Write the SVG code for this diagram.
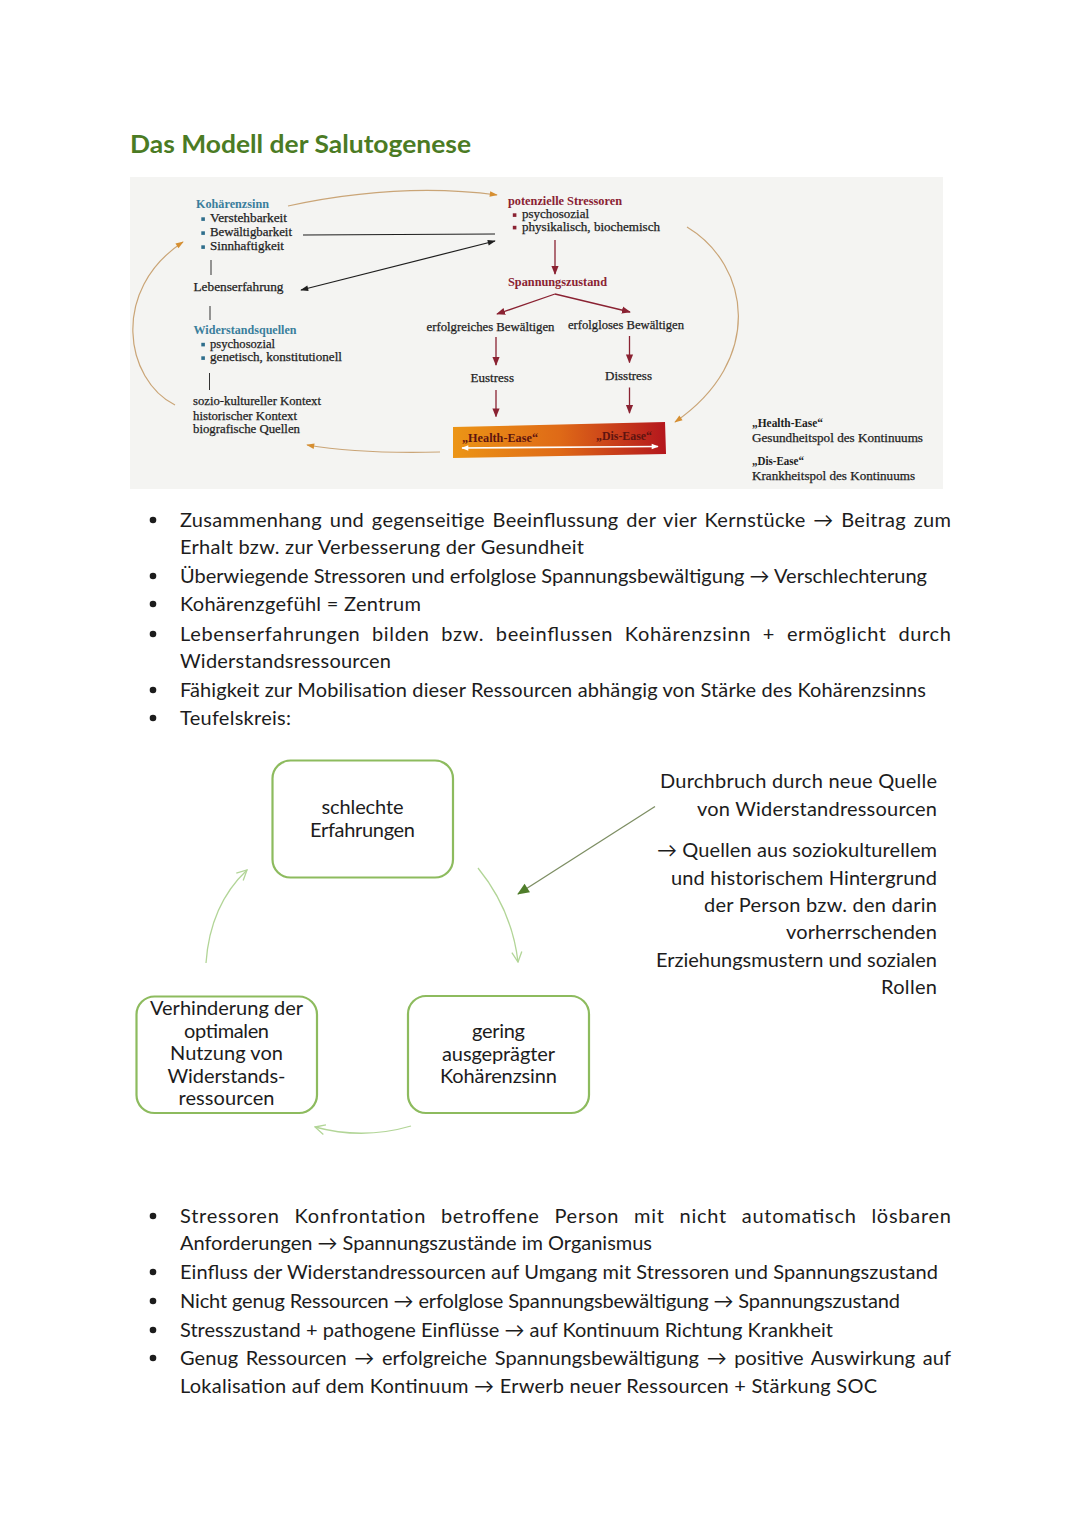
<svg xmlns="http://www.w3.org/2000/svg" width="1080" height="1527" viewBox="0 0 1080 1527">
<defs>
<style>
.title{font-family:Lato,"Open Sans",sans-serif;font-weight:bold;font-size:24px;fill:#4b7b24}
.body{font-family:Lato,"Open Sans",sans-serif;font-size:20px;fill:#1c1c1c}
.box{font-family:Lato,"Open Sans",sans-serif;font-size:20px;fill:#1c1c1c;text-anchor:middle}
.rt{font-family:Lato,"Open Sans",sans-serif;font-size:20px;fill:#1c1c1c;text-anchor:end}
.sh{font-family:"Liberation Serif",serif;font-size:12.5px;font-weight:bold}
.sn{font-family:"Liberation Serif",serif;font-size:12.5px;fill:#1e1e1e;stroke:#1e1e1e;stroke-width:0.25}
.blue{fill:#3a7e9c}
.red{fill:#8a2232}
.dk{fill:#1e1e1e}
.bar{font-family:"Liberation Serif",serif;font-size:11.5px;font-weight:bold;fill:#5e1410}
.cbox{fill:#ffffff;stroke:#8dbb5e;stroke-width:2.2}
.cyc{fill:none;stroke:#b2d597;stroke-width:1.3}
.vline{stroke:#333;stroke-width:1}
</style>
<linearGradient id="grad" x1="0" y1="0" x2="1" y2="0">
<stop offset="0" stop-color="#ec9516"/>
<stop offset="0.5" stop-color="#df6a17"/>
<stop offset="1" stop-color="#b4161d"/>
</linearGradient>
<marker id="mRed" viewBox="0 0 10 10" refX="9" refY="5" markerWidth="9" markerHeight="9" markerUnits="userSpaceOnUse" orient="auto"><path d="M0,1 L10,5 L0,9 z" fill="#8a2232"/></marker>
<marker id="mBlack" viewBox="0 0 10 10" refX="9" refY="5" markerWidth="10" markerHeight="8" markerUnits="userSpaceOnUse" orient="auto-start-reverse"><path d="M0,1.5 L10,5 L0,8.5 z" fill="#1e1e1e"/></marker>
<marker id="mOr" viewBox="0 0 10 10" refX="9" refY="5" markerWidth="10" markerHeight="8" markerUnits="userSpaceOnUse" orient="auto"><path d="M0,1.5 L10,5 L0,8.5 z" fill="#d68f32"/></marker>
<marker id="mWhite" viewBox="0 0 10 10" refX="9" refY="5" markerWidth="8" markerHeight="7" markerUnits="userSpaceOnUse" orient="auto-start-reverse"><path d="M0,1 L10,5 L0,9 z" fill="#ffffff"/></marker>
<marker id="mGo" viewBox="0 0 12 12" refX="11" refY="6" markerWidth="12" markerHeight="12" markerUnits="userSpaceOnUse" orient="auto"><path d="M1,1 L11,6 L1,11" fill="none" stroke="#b2d597" stroke-width="1.3"/></marker>
<marker id="mGf" viewBox="0 0 12 12" refX="11" refY="6" markerWidth="14" markerHeight="12" markerUnits="userSpaceOnUse" orient="auto"><path d="M0,1 L12,6 L0,11 z" fill="#4f7d2a"/></marker>
</defs>
<rect width="1080" height="1527" fill="#ffffff"/>

<text class="title" x="130" y="153" textLength="341" lengthAdjust="spacingAndGlyphs">Das Modell der Salutogenese</text>

<!-- top model picture -->
<rect x="130" y="177" width="813" height="312" fill="#f4f4f2"/>

<g id="koharenzsinn">
<text class="sh blue" x="196" y="208" textLength="73" lengthAdjust="spacingAndGlyphs">Kohärenzsinn</text>
<rect x="201.3" y="217.3" width="3.6" height="3.6" fill="#2f6e8c"/>
<text class="sn" x="210" y="222" textLength="77" lengthAdjust="spacingAndGlyphs">Verstehbarkeit</text>
<rect x="201.3" y="231.3" width="3.6" height="3.6" fill="#2f6e8c"/>
<text class="sn" x="210" y="236" textLength="82" lengthAdjust="spacingAndGlyphs">Bewältigbarkeit</text>
<rect x="201.3" y="245.3" width="3.6" height="3.6" fill="#2f6e8c"/>
<text class="sn" x="210" y="250" textLength="74" lengthAdjust="spacingAndGlyphs">Sinnhaftigkeit</text>
</g>
<line class="vline" x1="211" y1="260" x2="211" y2="275"/>
<g id="lebenserfahrung">
<text class="sn" x="193.5" y="290.5" textLength="90" lengthAdjust="spacingAndGlyphs">Lebenserfahrung</text>
</g>
<line class="vline" x1="210" y1="306" x2="210" y2="320"/>
<g id="widerstandsquellen">
<text class="sh blue" x="193.5" y="334" textLength="103" lengthAdjust="spacingAndGlyphs">Widerstandsquellen</text>
<rect x="201.3" y="342.8" width="3.6" height="3.6" fill="#2f6e8c"/>
<text class="sn" x="210" y="347.5" textLength="65" lengthAdjust="spacingAndGlyphs">psychosozial</text>
<rect x="201.3" y="356.3" width="3.6" height="3.6" fill="#2f6e8c"/>
<text class="sn" x="210" y="361" textLength="132" lengthAdjust="spacingAndGlyphs">genetisch, konstitutionell</text>
</g>
<line class="vline" x1="209.5" y1="373" x2="209.5" y2="390"/>
<g id="kontext">
<text class="sn" x="193" y="405" textLength="128" lengthAdjust="spacingAndGlyphs">sozio-kultureller Kontext</text>
<text class="sn" x="193" y="419.5" textLength="104" lengthAdjust="spacingAndGlyphs">historischer Kontext</text>
<text class="sn" x="193" y="433" textLength="107" lengthAdjust="spacingAndGlyphs">biografische Quellen</text>
</g>

<g id="stressoren">
<text class="sh red" x="508" y="205" textLength="114" lengthAdjust="spacingAndGlyphs">potenzielle Stressoren</text>
<rect x="512.8" y="213.3" width="3.6" height="3.6" fill="#8a2232"/>
<text class="sn" x="522" y="218" textLength="67" lengthAdjust="spacingAndGlyphs">psychosozial</text>
<rect x="512.8" y="225.8" width="3.6" height="3.6" fill="#8a2232"/>
<text class="sn" x="522" y="230.5" textLength="138" lengthAdjust="spacingAndGlyphs">physikalisch, biochemisch</text>
</g>
<g id="spannungszustand">
<text class="sh red" x="508" y="285.5" textLength="99" lengthAdjust="spacingAndGlyphs">Spannungszustand</text>
</g>
<g id="erfolgreich">
<text class="sn" x="426.5" y="331" textLength="128" lengthAdjust="spacingAndGlyphs">erfolgreiches Bewältigen</text>
</g>
<g id="erfolglos">
<text class="sn" x="568" y="328.5" textLength="116" lengthAdjust="spacingAndGlyphs">erfolgloses Bewältigen</text>
</g>
<g id="eustress">
<text class="sn" x="470.5" y="381.5" textLength="43.5" lengthAdjust="spacingAndGlyphs">Eustress</text>
</g>
<g id="disstress">
<text class="sn" x="605" y="379.5" textLength="47" lengthAdjust="spacingAndGlyphs">Disstress</text>
</g>
<g id="kontinuum">
<polygon points="453,427 665,422 666,454 453,458" fill="url(#grad)"/>
<text class="bar" x="462" y="442" textLength="76" lengthAdjust="spacingAndGlyphs">„Health-Ease“</text>
<text class="bar" x="596" y="439.5" textLength="56" lengthAdjust="spacingAndGlyphs">„Dis-Ease“</text>
<line x1="462" y1="448" x2="658" y2="446.5" stroke="#ffffff" stroke-width="1.6" marker-start="url(#mWhite)" marker-end="url(#mWhite)"/>
</g>
<g id="legende">
<text class="sh dk" x="752" y="427" textLength="71" lengthAdjust="spacingAndGlyphs">„Health-Ease“</text>
<text class="sn" x="752" y="442" textLength="171" lengthAdjust="spacingAndGlyphs">Gesundheitspol des Kontinuums</text>
<text class="sh dk" x="752" y="465" textLength="52" lengthAdjust="spacingAndGlyphs">„Dis-Ease“</text>
<text class="sn" x="752" y="480" textLength="163" lengthAdjust="spacingAndGlyphs">Krankheitspol des Kontinuums</text>
</g>

<g id="connectors-model">
<path d="M288,206 Q400,182 497,195" fill="none" stroke="#caa577" stroke-width="1.2" marker-end="url(#mOr)"/>
<line x1="303" y1="235" x2="495" y2="234" stroke="#1e1e1e" stroke-width="1.2"/>
<line x1="301" y1="290" x2="495" y2="241" stroke="#1e1e1e" stroke-width="1.2" marker-start="url(#mBlack)" marker-end="url(#mBlack)"/>
<path d="M687,227 C750,265 765,360 675,422" fill="none" stroke="#caa577" stroke-width="1.2" marker-end="url(#mOr)"/>
<path d="M440,452 Q360,454 307,445" fill="none" stroke="#caa577" stroke-width="1.2" marker-end="url(#mOr)"/>
<path d="M175,405 C125,380 110,290 183,242" fill="none" stroke="#caa577" stroke-width="1.2" marker-end="url(#mOr)"/>
<line x1="555" y1="240" x2="555" y2="274" stroke="#8a2232" stroke-width="1.3" marker-end="url(#mRed)"/>
<line x1="555" y1="294" x2="497" y2="314" stroke="#8a2232" stroke-width="1.3" marker-end="url(#mRed)"/>
<line x1="555" y1="294" x2="630" y2="312" stroke="#8a2232" stroke-width="1.3" marker-end="url(#mRed)"/>
<line x1="496" y1="337" x2="496" y2="365" stroke="#8a2232" stroke-width="1.3" marker-end="url(#mRed)"/>
<line x1="629.5" y1="336" x2="629.5" y2="362.5" stroke="#8a2232" stroke-width="1.3" marker-end="url(#mRed)"/>
<line x1="496" y1="390" x2="496" y2="416.5" stroke="#8a2232" stroke-width="1.3" marker-end="url(#mRed)"/>
<line x1="629.5" y1="387.5" x2="629.5" y2="413" stroke="#8a2232" stroke-width="1.3" marker-end="url(#mRed)"/>
</g>

<!-- bullets 1 -->
<g id="bullets-1">
<circle cx="153" cy="520" r="3.3" fill="#1c1c1c"/>
<text class="body" x="180" y="527" textLength="771" lengthAdjust="spacing" word-spacing="2.4">Zusammenhang und gegenseitige Beeinflussung der vier Kernstücke → Beitrag zum</text>
<text class="body" x="180" y="554" textLength="404" lengthAdjust="spacing">Erhalt bzw. zur Verbesserung der Gesundheit</text>
<circle cx="153" cy="576" r="3.3" fill="#1c1c1c"/>
<text class="body" x="180" y="583" textLength="747" lengthAdjust="spacing">Überwiegende Stressoren und erfolglose Spannungsbewältigung → Verschlechterung</text>
<circle cx="153" cy="604" r="3.3" fill="#1c1c1c"/>
<text class="body" x="180" y="611" textLength="241" lengthAdjust="spacing">Kohärenzgefühl = Zentrum</text>
<circle cx="153" cy="634" r="3.3" fill="#1c1c1c"/>
<text class="body" x="180" y="641" textLength="771" lengthAdjust="spacing" word-spacing="6">Lebenserfahrungen bilden bzw. beeinflussen Kohärenzsinn + ermöglicht durch</text>
<text class="body" x="180" y="668" textLength="211" lengthAdjust="spacing">Widerstandsressourcen</text>
<circle cx="153" cy="690" r="3.3" fill="#1c1c1c"/>
<text class="body" x="180" y="697" textLength="746" lengthAdjust="spacing">Fähigkeit zur Mobilisation dieser Ressourcen abhängig von Stärke des Kohärenzsinns</text>
<circle cx="153" cy="718" r="3.3" fill="#1c1c1c"/>
<text class="body" x="180" y="725" textLength="111" lengthAdjust="spacing">Teufelskreis:</text>
</g>

<!-- cycle -->
<g id="schlechte-erfahrungen">
<rect class="cbox" x="272.5" y="760.5" width="180.5" height="117" rx="18"/>
<text class="box" x="362.5" y="813.5" textLength="82" lengthAdjust="spacing">schlechte</text>
<text class="box" x="362.5" y="836.5" textLength="105" lengthAdjust="spacing">Erfahrungen</text>
</g>
<g id="gering-koharenzsinn">
<rect class="cbox" x="408" y="996" width="181" height="117" rx="18"/>
<text class="box" x="498.5" y="1038" textLength="53" lengthAdjust="spacing">gering</text>
<text class="box" x="498.5" y="1060.5" textLength="113" lengthAdjust="spacing">ausgeprägter</text>
<text class="box" x="498.5" y="1083" textLength="117" lengthAdjust="spacing">Kohärenzsinn</text>
</g>
<g id="verhinderung">
<rect class="cbox" x="136.5" y="996.5" width="180.5" height="116.5" rx="18"/>
<text class="box" x="226.5" y="1015" textLength="153" lengthAdjust="spacing">Verhinderung der</text>
<text class="box" x="226.5" y="1037.5" textLength="85" lengthAdjust="spacing">optimalen</text>
<text class="box" x="226.5" y="1060" textLength="113" lengthAdjust="spacing">Nutzung von</text>
<text class="box" x="226.5" y="1082.5" textLength="118" lengthAdjust="spacing">Widerstands-</text>
<text class="box" x="226.5" y="1105" textLength="96" lengthAdjust="spacing">ressourcen</text>
</g>
<g id="durchbruch">
<text class="rt" x="937" y="788" textLength="277" lengthAdjust="spacing">Durchbruch durch neue Quelle</text>
<text class="rt" x="937" y="815.5" textLength="240" lengthAdjust="spacing">von Widerstandressourcen</text>
<text class="rt" x="937" y="857" textLength="280" lengthAdjust="spacing">→ Quellen aus soziokulturellem</text>
<text class="rt" x="937" y="884.5" textLength="266" lengthAdjust="spacing">und historischem Hintergrund</text>
<text class="rt" x="937" y="912" textLength="233" lengthAdjust="spacing">der Person bzw. den darin</text>
<text class="rt" x="937" y="939" textLength="151" lengthAdjust="spacing">vorherrschenden</text>
<text class="rt" x="937" y="966.5" textLength="281" lengthAdjust="spacing">Erziehungsmustern und sozialen</text>
<text class="rt" x="937" y="994" textLength="56" lengthAdjust="spacing">Rollen</text>
</g>
<g id="connectors-cycle">
<path class="cyc" d="M206,963 Q210,905 247,870" marker-end="url(#mGo)"/>
<path class="cyc" d="M478,868 Q512,910 518,962" marker-end="url(#mGo)"/>
<path class="cyc" d="M411,1126 Q363,1140 315,1127" marker-end="url(#mGo)"/>
<line x1="655" y1="806.5" x2="518" y2="894" stroke="#7d8e63" stroke-width="1.3" marker-end="url(#mGf)"/>
</g>

<!-- bullets 2 -->
<g id="bullets-2">
<circle cx="153" cy="1216" r="3.3" fill="#1c1c1c"/>
<text class="body" x="180" y="1223" textLength="771" lengthAdjust="spacing" word-spacing="9">Stressoren Konfrontation betroffene Person mit nicht automatisch lösbaren</text>
<text class="body" x="180" y="1250" textLength="472" lengthAdjust="spacing">Anforderungen → Spannungszustände im Organismus</text>
<circle cx="153" cy="1272" r="3.3" fill="#1c1c1c"/>
<text class="body" x="180" y="1279" textLength="758" lengthAdjust="spacing">Einfluss der Widerstandressourcen auf Umgang mit Stressoren und Spannungszustand</text>
<circle cx="153" cy="1301" r="3.3" fill="#1c1c1c"/>
<text class="body" x="180" y="1308" textLength="720" lengthAdjust="spacing">Nicht genug Ressourcen → erfolglose Spannungsbewältigung → Spannungszustand</text>
<circle cx="153" cy="1330" r="3.3" fill="#1c1c1c"/>
<text class="body" x="180" y="1337" textLength="653" lengthAdjust="spacing">Stresszustand + pathogene Einflüsse → auf Kontinuum Richtung Krankheit</text>
<circle cx="153" cy="1358" r="3.3" fill="#1c1c1c"/>
<text class="body" x="180" y="1365" textLength="771" lengthAdjust="spacing" word-spacing="2.4">Genug Ressourcen → erfolgreiche Spannungsbewältigung → positive Auswirkung auf</text>
<text class="body" x="180" y="1393" textLength="697" lengthAdjust="spacing">Lokalisation auf dem Kontinuum → Erwerb neuer Ressourcen + Stärkung SOC</text>
</g>
</svg>
